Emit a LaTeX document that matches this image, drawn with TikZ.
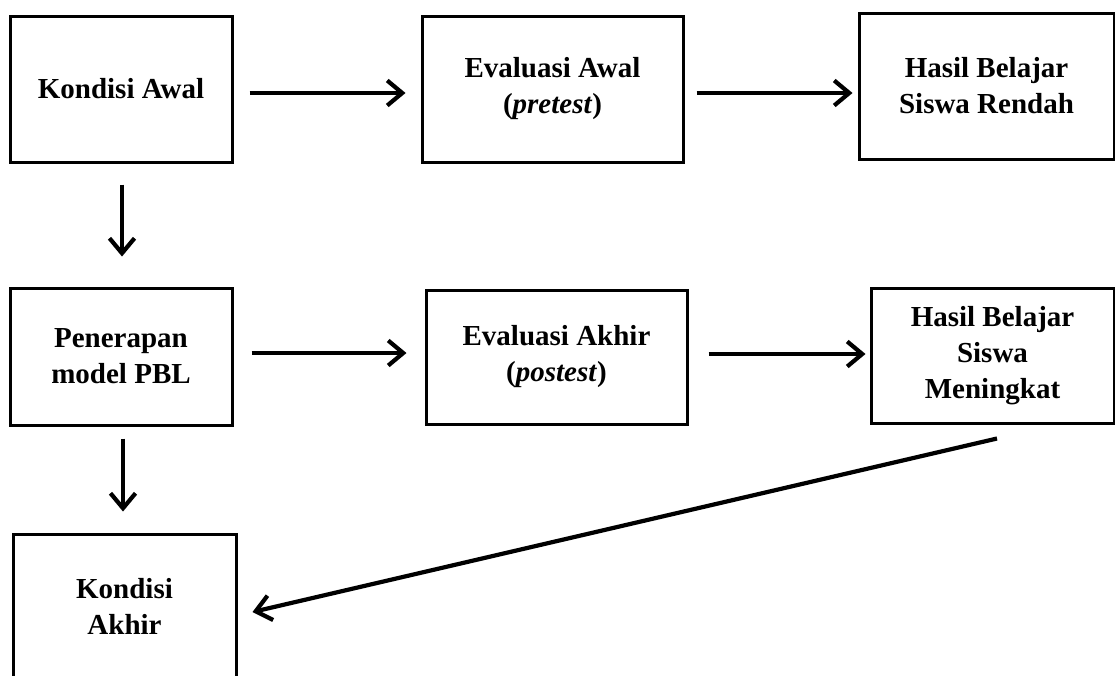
\documentclass[tikz,border=0pt]{standalone}
\usepackage{fontspec}
\setmainfont{Liberation Serif}
\usetikzlibrary{arrows.meta,calc}
\begin{document}
\begin{tikzpicture}[x=1pt,y=1pt,
  box/.style={draw=black,line width=3pt,rectangle,align=center,inner sep=0pt,
    font=\fontsize{29}{36}\selectfont\bfseries},
  conn/.style={line width=4.2pt,-{Straight Barb[length=15pt,width=25pt,line width=4.2pt]}}]
\clip (0,0) rectangle (1115,-675);
\fill[white] (0,0) rectangle (1115,-675);
\node[box,minimum width=222pt,minimum height=146pt] (b1) at (121,-89) {Kondisi Awal};
\node[box,minimum width=261pt,minimum height=146pt] (b2) at (552.5,-89) {Evaluasi Awal\\(\textit{pretest})};
\node[box,minimum width=255pt,minimum height=146pt] (b3) at (986.5,-86) {Hasil Belajar\\Siswa Rendah};
\node[box,minimum width=222pt,minimum height=137pt] (b4) at (121,-356.5) {Penerapan\\model PBL};
\node[box,minimum width=261pt,minimum height=134pt] (b5) at (556.5,-357) {Evaluasi Akhir\\(\textit{postest})};
\node[box,minimum width=243pt,minimum height=135pt] (b6) at (992.5,-355.5) {Hasil Belajar\\Siswa\\Meningkat};
\node[box,minimum width=223pt,minimum height=145pt] (b7) at (124.5,-606.5) {Kondisi\\Akhir};
\draw[conn] ($(b1.east)+(16,-4)$) -- ($(b2.west)+(-15,-4)$);
\draw[conn] ($(b2.east)+(12,-4)$) -- ($(b3.west)+(-5,-7)$);
\draw[conn] ($(b4.east)+(18,3.5)$) -- ($(b5.west)+(-18,4)$);
\draw[conn] ($(b5.east)+(20,3)$) -- ($(b6.west)+(-4,1.5)$);
\draw[conn] ($(b1.south)+(1,-21)$) -- ($(b4.north)+(1,30)$);
\draw[conn] ($(b4.south)+(2,-12)$) -- ($(b7.north)+(-1.5,21)$);
\draw[conn] ($(b6.south)+(4.5,-14)$) -- ($(b7.east)+(15,-5.5)$);
\end{tikzpicture}
\end{document}
